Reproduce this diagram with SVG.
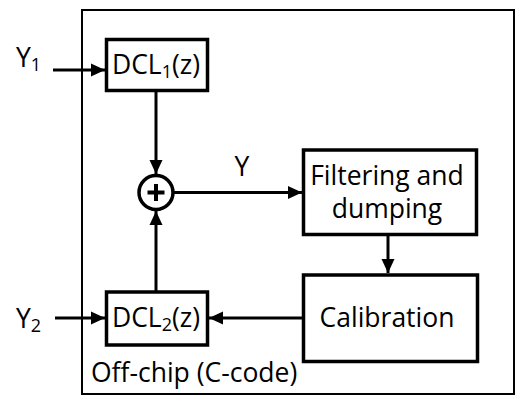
<svg xmlns="http://www.w3.org/2000/svg" width="518" height="397" viewBox="0 0 518 397">
<style>
text{font-family:"Open Sans","Noto Sans",sans-serif;font-size:26.5px;fill:#000}
.sub{font-size:18px}
.box{fill:#fff;stroke:#000;stroke-width:3.5}
.frame{fill:none;stroke:#000;stroke-width:2}
.wire{fill:none;stroke:#000;stroke-width:3;marker-end:url(#ah)}
</style>
<defs>
<marker id="ah" markerUnits="userSpaceOnUse" markerWidth="14" markerHeight="14" viewBox="0 0 14 14" refX="14" refY="7" orient="auto">
<path d="M0,0.5 L14,7 L0,13.5 Z" fill="#000"/>
</marker>
</defs>
<g id="frame">
<rect class="frame" x="82" y="10" width="432" height="384"/>
<text x="91" y="382">Off-chip (C-code)</text>
</g>
<g id="connectors">
<line class="wire" x1="53" y1="70" x2="105" y2="70"/>
<line class="wire" x1="55" y1="318" x2="105" y2="318"/>
<line class="wire" x1="156" y1="91" x2="156" y2="174"/>
<line class="wire" x1="156" y1="291" x2="156" y2="211"/>
<line class="wire" x1="174" y1="192.5" x2="302" y2="192.5"/>
<line class="wire" x1="388" y1="236" x2="388" y2="273"/>
<line class="wire" x1="302" y1="318" x2="209" y2="318"/>
</g>
<g id="y1">
<text x="16" y="67">Y<tspan class="sub" dy="4">1</tspan></text>
</g>
<g id="y2">
<text x="16" y="328">Y<tspan class="sub" dy="4">2</tspan></text>
</g>
<g id="dcl1">
<rect class="box" x="106.5" y="39.5" width="101" height="51"/>
<text x="156" y="74" text-anchor="middle">DCL<tspan class="sub" dy="4">1</tspan><tspan dy="-4">(z)</tspan></text>
</g>
<g id="dcl2">
<rect class="box" x="106.5" y="292" width="101" height="53"/>
<text x="156" y="327" text-anchor="middle">DCL<tspan class="sub" dy="4">2</tspan><tspan dy="-4">(z)</tspan></text>
</g>
<g id="sum">
<circle cx="156" cy="192.5" r="17" fill="#fff" stroke="#000" stroke-width="3.5"/>
<path d="M156,184 V201 M147.5,192.5 H164.5" stroke="#000" stroke-width="4"/>
</g>
<g id="ylabel">
<text x="242" y="176" text-anchor="middle">Y</text>
</g>
<g id="filter">
<rect class="box" x="303.5" y="150" width="173" height="84.5"/>
<text x="387" y="185" text-anchor="middle">Filtering and</text>
<text x="387" y="218" text-anchor="middle">dumping</text>
</g>
<g id="calib">
<rect class="box" x="303.5" y="275" width="174" height="86.5"/>
<text x="387" y="327" text-anchor="middle">Calibration</text>
</g>
</svg>
